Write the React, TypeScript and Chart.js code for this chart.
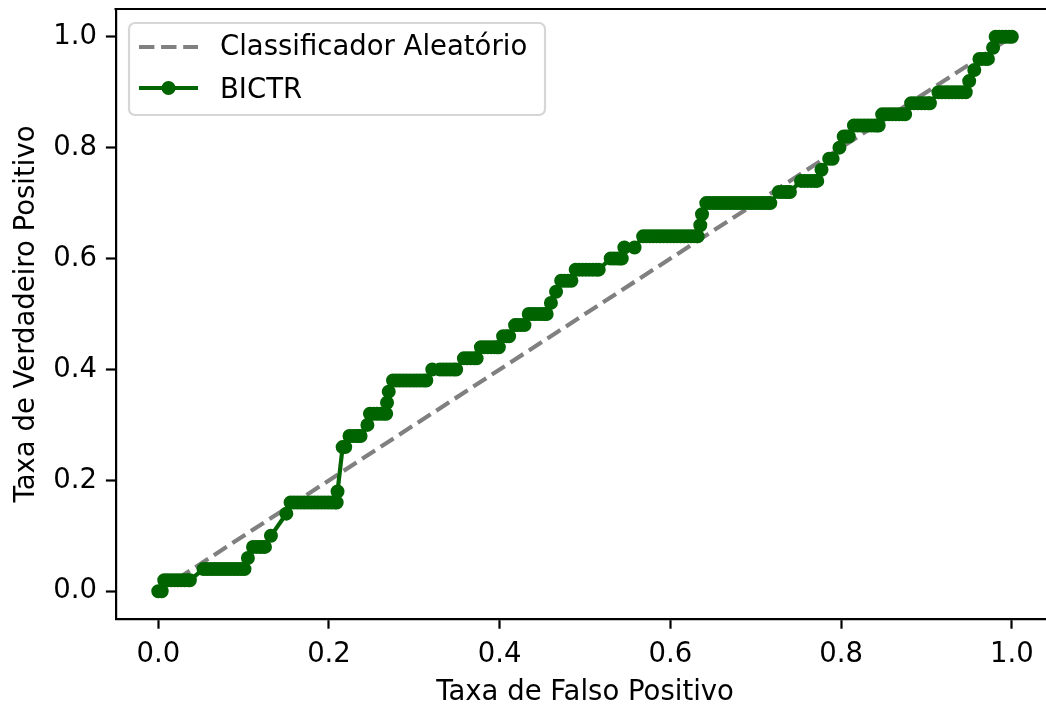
import { useEffect, useRef } from "react";
import { Chart, registerables } from "chart.js";

Chart.register(...registerables);

// BICTR ROC curve: each true-positive-rate level and the false positive rates
// of the thresholds that sit on it
const tprLevels = [
  0.0, 0.02, 0.04, 0.06, 0.08, 0.1, 0.14, 0.16, 0.18, 0.26,
  0.28, 0.3, 0.32, 0.34, 0.36, 0.38, 0.4, 0.42, 0.44, 0.46,
  0.48, 0.5, 0.52, 0.54, 0.56, 0.58, 0.6, 0.62, 0.64, 0.66,
  0.68, 0.7, 0.72, 0.74, 0.76, 0.78, 0.8, 0.82, 0.84, 0.86,
  0.88, 0.9, 0.92, 0.94, 0.96, 0.98, 1.0,
];

const fprByLevel = [
  [0.0, 0.004],
  [0.007, 0.011, 0.015, 0.019, 0.023, 0.027, 0.031, 0.035, 0.037],
  [0.053, 0.057, 0.061, 0.065, 0.069, 0.073, 0.077, 0.081, 0.085, 0.089, 0.093, 0.097, 0.101],
  [0.105],
  [0.111, 0.115, 0.119, 0.122, 0.125],
  [0.132],
  [0.15],
  [0.155, 0.159, 0.163, 0.167, 0.171, 0.175, 0.179, 0.183, 0.187, 0.191, 0.195, 0.199, 0.203, 0.207, 0.209],
  [0.21],
  [0.216, 0.219],
  [0.224, 0.228, 0.232, 0.235, 0.237],
  [0.245],
  [0.248, 0.252, 0.256, 0.26, 0.264, 0.267],
  [0.268],
  [0.27],
  [0.275, 0.279, 0.283, 0.287, 0.291, 0.295, 0.299, 0.303, 0.307, 0.311, 0.314],
  [0.321, 0.33, 0.334, 0.338, 0.342, 0.346, 0.349],
  [0.358, 0.362, 0.366, 0.37, 0.373],
  [0.378, 0.382, 0.386, 0.39, 0.394, 0.397, 0.399],
  [0.404, 0.408, 0.411],
  [0.418, 0.421, 0.425, 0.429],
  [0.434, 0.438, 0.442, 0.446, 0.45, 0.453, 0.455],
  [0.46],
  [0.466],
  [0.472, 0.476, 0.48, 0.484],
  [0.489, 0.493, 0.497, 0.501, 0.505, 0.509, 0.513, 0.516],
  [0.53, 0.534, 0.538, 0.541, 0.543],
  [0.546, 0.558],
  [0.568, 0.572, 0.576, 0.58, 0.584, 0.588, 0.592, 0.596, 0.6, 0.604, 0.608, 0.612, 0.616, 0.62, 0.624, 0.628, 0.632],
  [0.635],
  [0.637],
  [0.642, 0.646, 0.65, 0.654, 0.658, 0.662, 0.666, 0.67, 0.674, 0.678, 0.682, 0.686, 0.69, 0.694, 0.698, 0.702, 0.706, 0.71, 0.714, 0.717],
  [0.727, 0.731, 0.735, 0.738, 0.74],
  [0.753, 0.757, 0.761, 0.765, 0.769, 0.772],
  [0.777],
  [0.786, 0.79],
  [0.798],
  [0.803, 0.806, 0.809],
  [0.815, 0.819, 0.823, 0.827, 0.831, 0.835, 0.839, 0.842, 0.844],
  [0.848, 0.852, 0.856, 0.86, 0.864, 0.868, 0.872, 0.875],
  [0.882, 0.886, 0.89, 0.894, 0.898, 0.902, 0.904],
  [0.914, 0.918, 0.922, 0.926, 0.93, 0.934, 0.938, 0.942, 0.946],
  [0.95],
  [0.956],
  [0.962, 0.965, 0.969, 0.972],
  [0.978],
  [0.981, 0.985, 0.989, 0.993, 0.997, 1.0],
];

// Random-classifier reference diagonal
const chanceX = [0, 1];
const chanceY = [0, 1];

const tickValues = [0, 0.2, 0.4, 0.6, 0.8, 1.0];
const seriesLabels = ["Classificador Aleatório", "BICTR"];
const xAxisTitle = "Taxa de Falso Positivo";
const yAxisTitle = "Taxa de Verdadeiro Positivo";

const FONT_FAMILY = '"DejaVu Sans", "Liberation Sans", sans-serif';
const FONT_SIZE = 27.5;
const GREEN = "#006400";
const GRAY = "#808080";
const DASH = [15.4, 6.7];
const LINE_W = 4.2;
const FRAME_W = 2.2;

const decorations = {
  id: "decorations",
  afterDraw(chart: any) {
    const { ctx, chartArea } = chart;
    ctx.save();

    // top spine (left and bottom come from the axis borders)
    ctx.strokeStyle = "#000";
    ctx.lineWidth = FRAME_W;
    ctx.beginPath();
    ctx.moveTo(chartArea.left - FRAME_W / 2, chartArea.top);
    ctx.lineTo(chart.width, chartArea.top);
    ctx.stroke();

    // axis titles
    ctx.fillStyle = "#000";
    ctx.font = `${FONT_SIZE}px ${FONT_FAMILY}`;
    ctx.textAlign = "center";
    ctx.textBaseline = "alphabetic";
    const xs = chart.scales.x;
    const xCenter = (xs.getPixelForValue(-0.05) + xs.getPixelForValue(1.05)) / 2;
    ctx.fillText(xAxisTitle, xCenter, 700);
    ctx.save();
    ctx.translate(34, (chartArea.top + chartArea.bottom) / 2);
    ctx.rotate(-Math.PI / 2);
    ctx.fillText(yAxisTitle, 0, 0);
    ctx.restore();

    // legend box
    const bx = 129, by = 23, bw = 416, bh = 92, r = 6;
    ctx.beginPath();
    ctx.roundRect(bx, by, bw, bh, r);
    ctx.fillStyle = "rgba(255,255,255,0.8)";
    ctx.fill();
    ctx.strokeStyle = "#d6d6d6";
    ctx.lineWidth = FRAME_W;
    ctx.stroke();

    const hx0 = 139, hx1 = 198;
    const rows = [47, 88];
    // dashed handle
    ctx.strokeStyle = GRAY;
    ctx.lineWidth = LINE_W;
    ctx.setLineDash(DASH);
    ctx.beginPath();
    ctx.moveTo(hx0, rows[0]);
    ctx.lineTo(hx1, rows[0]);
    ctx.stroke();
    ctx.setLineDash([]);
    // line + marker handle
    ctx.strokeStyle = GREEN;
    ctx.beginPath();
    ctx.moveTo(hx0, rows[1]);
    ctx.lineTo(hx1, rows[1]);
    ctx.stroke();
    ctx.fillStyle = GREEN;
    ctx.beginPath();
    ctx.arc((hx0 + hx1) / 2, rows[1], 7, 0, Math.PI * 2);
    ctx.fill();

    ctx.fillStyle = "#000";
    ctx.textAlign = "left";
    ctx.fillText(seriesLabels[0], 220, rows[0] + 8.3);
    ctx.fillText(seriesLabels[1], 220, rows[1] + 9.5);

    ctx.restore();
  },
};

export default function App() {
  const canvasRef = useRef<HTMLCanvasElement | null>(null);

  useEffect(() => {
    const canvas = canvasRef.current;
    if (!canvas) return;

    const rocPoints = tprLevels.flatMap((y, i) => fprByLevel[i].map((x) => ({ x, y })));
    const chancePoints = chanceX.map((x, i) => ({ x, y: chanceY[i] }));

    const tickFont = { family: FONT_FAMILY, size: FONT_SIZE };

    const chart = new Chart(canvas, {
      type: "scatter",
      data: {
        datasets: [
          {
            label: seriesLabels[1],
            data: rocPoints,
            showLine: true,
            borderColor: GREEN,
            backgroundColor: GREEN,
            borderWidth: LINE_W,
            pointRadius: 6,
            pointBorderWidth: 2,
            pointBackgroundColor: GREEN,
            pointBorderColor: GREEN,
            order: 0,
          },
          {
            label: seriesLabels[0],
            data: chancePoints,
            showLine: true,
            borderColor: GRAY,
            borderWidth: LINE_W,
            borderDash: DASH,
            pointRadius: 0,
            order: 1,
          },
        ],
      },
      options: {
        animation: false,
        responsive: false,
        devicePixelRatio: 1,
        events: [],
        layout: { autoPadding: false, padding: { top: 9, left: 0, right: 0, bottom: 0 } },
        plugins: {
          legend: { display: false },
          tooltip: { enabled: false },
        },
        scales: {
          x: {
            type: "linear",
            min: -0.05,
            max: 1.04,
            afterBuildTicks: (scale: any) => {
              scale.ticks = tickValues.map((value) => ({ value }));
            },
            afterFit: (scale: any) => {
              scale.height = 87;
              scale.paddingLeft = 0;
              scale.paddingRight = 0;
            },
            ticks: {
              font: tickFont,
              color: "#000",
              padding: 10,
              maxRotation: 0,
              callback: (v: any) => Number(v).toFixed(1),
            },
            grid: {
              drawOnChartArea: false,
              drawTicks: true,
              tickLength: 9.7,
              tickWidth: FRAME_W,
              tickColor: "#000",
            },
            border: { display: true, color: "#000", width: FRAME_W },
          },
          y: {
            type: "linear",
            min: -0.05,
            max: 1.05,
            afterBuildTicks: (scale: any) => {
              scale.ticks = tickValues.map((value) => ({ value }));
            },
            afterFit: (scale: any) => {
              scale.width = 115.6;
              scale.paddingTop = 0;
              scale.paddingBottom = 0;
            },
            ticks: {
              font: tickFont,
              color: "#000",
              padding: 9,
              callback: (v: any) => Number(v).toFixed(1),
            },
            grid: {
              drawOnChartArea: false,
              drawTicks: true,
              tickLength: 9.7,
              tickWidth: FRAME_W,
              tickColor: "#000",
            },
            border: { display: true, color: "#000", width: FRAME_W },
          },
        },
      },
      plugins: [decorations],
    });

    return () => chart.destroy();
  }, []);

  return (
    <div style={{ position: "fixed", left: 0, top: 0, width: 1046, height: 706, background: "#fff" }}>
      <canvas ref={canvasRef} width={1046} height={706} />
    </div>
  );
}
